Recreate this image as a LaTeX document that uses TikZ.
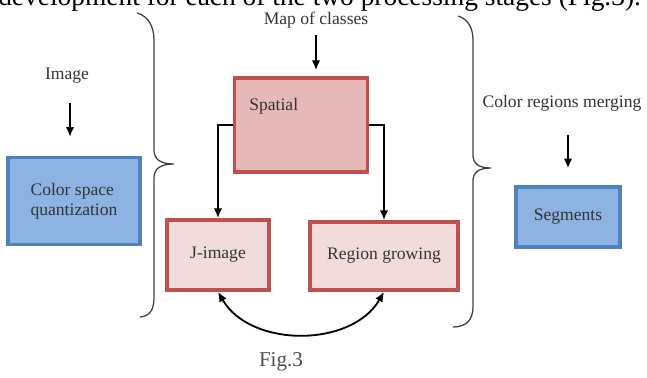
\documentclass[tikz,border=0pt]{standalone}
\usepackage{fontspec}
\setmainfont{Liberation Serif}
\usetikzlibrary{positioning,calc,arrows.meta}

\definecolor{boxblue}{HTML}{8DB3E2}
\definecolor{lineblue}{HTML}{4F81BD}
\definecolor{boxred}{HTML}{E6B9B8}
\definecolor{boxpink}{HTML}{F2DCDB}
\definecolor{linered}{HTML}{C0504D}
\definecolor{inkgray}{HTML}{333333}

\newcommand{\lblfont}{\fontsize{12.5}{14}\selectfont}
\newdimen\pxu \pxu=0.025cm

\begin{document}
\begin{tikzpicture}[x=0.025cm, y=-0.025cm,
    bluebox/.style={draw=lineblue, fill=boxblue, line width=2.3pt, inner sep=2pt, font=\lblfont, text=inkgray},
    redbox/.style={draw=linered, line width=2.6pt, inner sep=2pt, font=\lblfont, text=inkgray},
    lbl/.style={font=\lblfont, text=inkgray, inner sep=1pt},
    flow/.style={-{Latex[length=7pt,width=6pt]}, line width=1.3pt},
    curly/.style={line width=0.9pt, black!75}]
    \useasboundingbox (0,0) rectangle (647,377);
    \clip (0,0) rectangle (647,377);

    % Cut-off caption line from the page
    \node[anchor=base west, inner sep=0, font=\fontsize{19.5}{22}\selectfont] (topline) at (-2,5)
        {development for each of the two processing stages (Fig.3).};

    % First stage
    \node[lbl] (img) at (67,76) {Image};
    \node[bluebox, minimum width=132\pxu, minimum height=87\pxu, align=left] (quant) at (74,201) {Color space\\quantization};
    \draw[flow, shorten <=18\pxu, shorten >=19\pxu] (img.south -| 70,0) -- (quant.north -| 70,0);

    % Braces
    \draw[curly] (137,13) .. controls (148,16) and (154,26) .. (154,40) -- (154,150)
        .. controls (154,159) and (160,164) .. (174,164)
        .. controls (160,164) and (154,169) .. (154,178) -- (154,297)
        .. controls (154,310) and (150,316) .. (140,317);
    \draw[curly] (458,16) .. controls (468,19) and (473,28) .. (473,40) -- (473,155)
        .. controls (473,163) and (478,168) .. (491,168)
        .. controls (478,168) and (473,173) .. (473,181) -- (473,307)
        .. controls (473,320) and (466,327) .. (453,327);

    % Second stage
    \node[lbl] (maps) at (316,20) {Map of classes};
    \node[redbox, fill=boxred, minimum width=133\pxu, minimum height=94\pxu,
        label={[lbl, anchor=north west, xshift=15\pxu, yshift=-20\pxu]north west:Spatial}] (spatial) at (301,125) {};
    \node[redbox, fill=boxpink, minimum width=102\pxu, minimum height=70\pxu] (jimage) at (218,255) {J-image};
    \node[redbox, fill=boxpink, minimum width=148\pxu, minimum height=68\pxu] (region) at (384,256) {Region growing};

    \draw[flow, shorten <=5\pxu, shorten >=6\pxu] (maps.south) -- (maps.south |- spatial.north);
    \draw[flow] (spatial.west) -| (jimage.north);
    \draw[flow] (spatial.east) -| (region.north);
    \draw[{Latex[length=7pt,width=6pt]}-{Latex[length=7pt,width=6pt]}, line width=1.3pt]
        (jimage.south) to[out=-60, in=-120] (region.south);

    \node[font=\fontsize{15}{17}\selectfont, text=black!70] (fig) at (281,362) {Fig.3};

    % Third stage
    \node[lbl] (merge) at (562,103) {Color regions merging};
    \node[bluebox, minimum width=104\pxu, minimum height=60\pxu] (segs) at (568,217) {Segments};
    \draw[flow, shorten <=22\pxu, shorten >=17\pxu] (merge.south -| segs.north) -- (segs.north);
\end{tikzpicture}
\end{document}
